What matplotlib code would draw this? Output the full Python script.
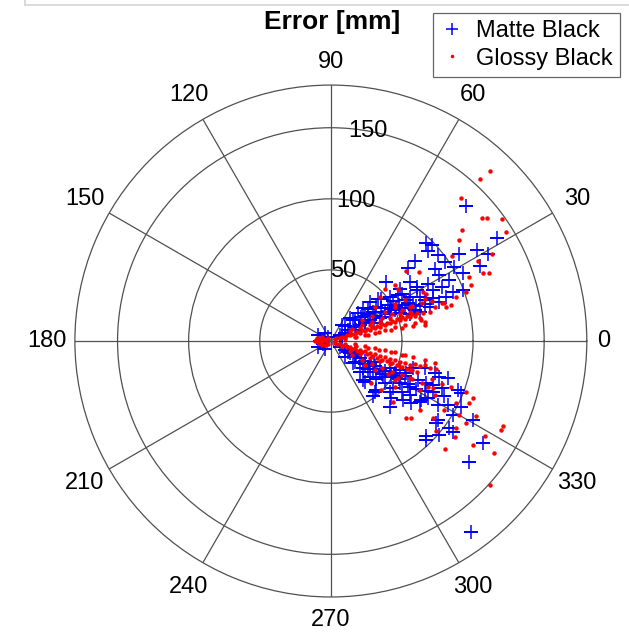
import numpy as np
import matplotlib
matplotlib.use("Agg")
import matplotlib.pyplot as plt
from matplotlib.lines import Line2D

plt.rcParams['font.family'] = ['Liberation Sans', 'DejaVu Sans']

# error components in mm (x, y)
matte_x = [95.2, 116.6, 66.6, 71.0, 68.0, 75.2, 90.4, 102.6, 110.8, 80.1, 104.7, 93.2, 72.9, 58.9, 54.2,
           39.0, 48.9, 55.4, 60.5, 27.3, 33.2, 41.4, 47.2, 13.3, 19.1, 22.6, 29.7, 35.5, 53.1, 62.4,
           7.5, 46.1, 57.7, 86.9, 83.4, 76.4, 71.7, 85.7, 92.7, 65.9, 76.4, 81.1, 69.4, 15.6, 21.5,
           60.5, 35.5,
           6.3, 9.8, 13.3, 16.8, 20.3, 23.8, 27.3, 30.9, 34.4, 37.9, 41.4, 44.9, 48.4, 51.9, 55.4,
           58.9, 62.4, 9.8, 16.8, 23.8, 40.0, 25.9,
           8, 12, 18, 24, 30, 36, 42, 48, 54, 60, 66, 72, 26, 32, 44, 50, 56, 68, 78,
           15.6, 22.6, 23.8, 32.0, 29.7, 41.4, 42.6, 50.7, 56.6, 62.4, 36.7, 46.1, 53.1, 48.4, 55.4,
           61.2, 67.1, 67.1, 29.7, 57.7, 65.9, 72.9, 76.4, 71.7, 82.3, 89.3, 91.6, 79.9, 63.6, 75.2,
           82.3, 91.6, 85.7, 99.8, 75.2, 83.4, 76.4, 67.1, 85.7, 106.8, 97.0, 98.7, 22.6, 30.9, 41.4,
           74.1,
           6.3, 9.8, 13.3, 16.8, 20.3, 23.8, 27.3, 30.9, 34.4, 37.9, 41.4, 44.9, 48.4, 51.9, 9.8,
           16.8, 20.3, 27.3, 37.9,
           8, 12, 18, 24, 30, 36, 42, 48, 54, 60, 66, 72, 26, 32, 44, 50, 56, 68, 78,
           -9.1, -9.1, -4.2, -4.2, -7.7, -2.0, -5.5]
matte_y = [94.9, 72.4, 69.2, 67.3, 63.1, 60.8, 61.5, 63.8, 61.2, 55.6, 52.6, 47.9, 51.0, 56.3, 51.7,
           41.6, 36.9, 41.6, 38.1, 27.6, 29.9, 31.1, 32.2, 15.9, 19.4, 22.9, 20.5, 22.9, 28.7, 31.1,
           11.2, 24.0, 25.2, 52.1, 42.8, 46.3, 35.8, 34.6, 35.8, 28.7, 27.6, 31.1, 24.0, 14.7, 17.0,
           35.8, 29.9,
           4.2, 5.6, 7.7, 9.8, 11.2, 13.3, 14.7, 17.5, 16.1, 20.3, 18.9, 21.7, 19.6, 23.1, 18.9,
           21.7, 20.3, 10.5, 14.7, 17.5, 25.2, 22.4,
           3.5, 7.5, 8.0, 12.5, 13.0, 17.0, 22.5, 25.0, 27.0, 24.5, 26.0, 30.0, 19.0, 24.0, 28.0, 33.0, 31.0, 40.0, 38.0,
           -15.6, -19.1, -28.5, -34.4, -39.0, -35.5, -40.2, -41.4, -43.7, -42.6, -25.0, -25.0, -22.6, -29.7, -32.0,
           -27.3, -29.7, -67.1, -21.5, -19.1, -19.1, -22.6, -25.0, -30.9, -26.2, -34.4, -36.7, -39.0, -41.4, -44.9,
           -44.9, -46.1, -51.9, -55.4, -55.4, -61.2, -65.9, -69.4, -64.3, -71.7, -85.0, -134.1, -27.3, -35.5, -46.1,
           -57.7,
           -4.2, -6.3, -8.4, -10.5, -11.9, -14.0, -16.1, -17.5, -19.6, -21.0, -18.9, -22.4, -20.3, -24.5, -11.2,
           -14.7, -21.7, -25.2, -29.5,
           -3.5, -8.0, -9.0, -16.0, -14.5, -23.0, -24.0, -27.0, -30.0, -34.0, -35.0, -36.0, -19.5, -27.0, -33.0,
           -36.0, -38.0, -40.0, -33.0,
           4.2, -4.2, 5.6, -5.6, 0.0, 3.0, -2.0]

glossy_x = [112.0, 105.2, 91.4, 106.3, 110.1, 120.6, 92.5, 123.4, 90.2, 85.3, 113.6, 103.5, 53.1, 61.9, 44.9,
            34.4, 64.7, 55.4, 49.6, 106.8, 111.0, 97.4, 98.6, 95.1, 84.6, 79.9, 67.1, 64.7, 63.6, 69.4,
            88.1, 81.1, 72.9, 55.4, 65.9, 47.2, 37.9, 30.9, 44.9,
            2.8, 6.3, 9.8, 13.3, 16.8, 20.3, 23.8, 27.3, 30.9, 34.4, 37.9, 41.4, 44.9, 48.4, 51.9,
            55.4, 58.9, 62.4, 65.9, 13.3, 20.3, 27.3, 34.4, 41.4, 48.4, 16.8, 23.8, 30.9, 37.9, 44.9,
            51.9, 58.9, 21.7, 28.7, 37.9, 44.9, 51.9,
            4.5, 8.0, 11.5, 15.0, 18.5, 22.0, 25.5, 29.0, 32.5, 36.0, 39.5, 43.0, 46.5, 50.0, 53.5, 57.0, 60.5,
            10, 18, 26, 34, 42, 50, 58, 66,
            15, 22, 29, 36, 43, 50, 57, 64, 71, 78,
            2.8, 6.3, 9.8, 13.3, 16.8, 20.3, 23.8, 27.3, 30.9, 34.4, 37.9, 41.4, 44.9, 48.4, 51.9,
            55.4, 58.9, 62.4, 65.9, 69.4, 13.3, 20.3, 27.3, 34.4, 41.4, 48.4, 55.4, 16.8, 23.8, 30.9,
            37.9, 44.9, 51.9, 23.8, 30.9, 40.0, 47.0, 55.4,
            4.5, 8.0, 11.5, 15.0, 18.5, 22.0, 25.5, 29.0, 32.5, 36.0, 39.5, 43.0, 46.5, 50.0, 53.5, 57.0, 60.5,
            10, 18, 26, 34, 42, 50, 58, 66, 74,
            15, 22, 29, 36, 43, 50, 57, 64, 71, 78,
            28.5, 35.5, 44.9, 44.9, 53.1, 56.6, 62.4, 43.7, 62.4, 68.2, 72.9, 84.6, 95.1, 97.4, 99.8,
            71.7, 90.4, 95.1, 102.1, 119.7, 120.8, 88.1, 74.1, 87.6, 80.6, 100.2, 108.4, 115.0, 112.0, 72.9,
            79.9, 71.7, 88.1,
            -7.7, -9.1, -6.3, -6.3, -3.5, -2.1, -2.1, -10.5, -5.0, -8.0, -11.0, -4.0, -6.0, -9.5]
glossy_y = [119.4, 113.8, 100.8, 86.7, 86.7, 85.8, 78.1, 76.9, 70.8, 59.8, 61.2, 56.3, 49.1, 48.2, 39.3,
            31.1, 34.6, 20.5, 17.0, 47.5, 47.5, 45.1, 39.3, 34.6, 25.2, 26.4, 33.4, 19.4, 14.7, 20.5,
            31.1, 24.0, 24.0, 24.0, 29.9, 36.9, 36.9, 24.0, 24.0,
            1.4, 2.1, 2.8, 4.2, 4.9, 5.6, 7.0, 7.7, 9.1, 9.8, 11.2, 12.6, 13.3, 14.7, 15.4,
            16.8, 17.5, 16.1, 13.3, 7.0, 9.1, 11.2, 13.3, 16.1, 18.9, 2.8, 4.2, 5.6, 7.7, 9.8,
            11.2, 12.6, 14.7, 17.5, 20.3, 25.9, 28.7,
            1.8, 2.9, 3.9, 5.2, 6.3, 7.5, 8.3, 9.6, 10.8, 11.9, 13.0, 14.4, 15.5, 16.6, 17.9, 19.0, 19.8,
            1.5, 2.9, 4.3, 6.0, 7.6, 9.0, 10.5, 11.5,
            8.5, 11.5, 13.5, 16.5, 19.0, 21.5, 24.5, 26.5, 28.0, 27.0,
            -1.4, -2.1, -2.8, -4.2, -4.9, -6.3, -7.0, -8.4, -9.1, -10.5, -11.2, -12.6, -13.3, -14.7, -15.4,
            -16.8, -16.1, -17.5, -16.8, -18.9, -7.0, -9.1, -11.9, -14.0, -16.1, -18.2, -20.3, -2.1, -3.5, -4.9,
            -6.3, -7.7, -9.8, -16.8, -20.3, -23.1, -25.9, -25.9,
            -1.8, -3.2, -4.4, -5.6, -6.9, -8.0, -9.4, -10.6, -11.8, -13.0, -14.2, -15.6, -16.9, -18.0, -19.4, -20.5, -21.6,
            -2.0, -3.3, -5.0, -6.5, -8.0, -10.0, -11.5, -13.0, -20.0,
            -10.0, -13.0, -16.5, -19.0, -22.0, -24.0, -27.0, -29.5, -27.0, -30.0,
            -29.7, -34.4, -27.3, -32.0, -54.2, -54.2, -48.4, -42.6, -34.4, -32.0, -15.6, -32.0, -35.5, -43.7, -40.2,
            -54.2, -51.9, -57.7, -52.6, -62.4, -59.6, -61.2, -63.6, -67.5, -75.7, -73.4, -66.6, -78.7, -101.4, -37.9,
            -48.4, -33.2, -43.7,
            0.7, -0.7, 2.8, -2.8, 0.0, 2.1, -2.1, 0.7, 1.5, -1.5, 0.0, -3.0, 0.0, 1.8]

theta_ticks = [0, 30, 60, 90, 120, 150, 180, 210, 240, 270, 300, 330]
r_ticks = [50, 100, 150]
r_max = 180

matte_th = np.arctan2(matte_y, matte_x)
matte_r = np.hypot(matte_x, matte_y)
glossy_th = np.arctan2(glossy_y, glossy_x)
glossy_r = np.hypot(glossy_x, glossy_y)

fig = plt.figure(figsize=(6.29, 6.32), dpi=100)
ax = fig.add_axes([0.119, 0.0554, 0.814, 0.810], projection='polar')

ax.plot(matte_th, matte_r, '+', color='blue', ms=10, mew=1.1, label='Matte Black')
ax.plot(glossy_th, glossy_r, 'o', color='red', ms=3.2, mew=0, label='Glossy Black')

ax.set_rlim(0, r_max)
ax.set_thetagrids(theta_ticks, labels=[''] * len(theta_ticks))
ax.set_rticks(r_ticks)
ax.set_yticklabels([])
ax.grid(True, color='#505050', lw=0.9)
ax.spines['polar'].set_color('#505050')
ax.spines['polar'].set_linewidth(0.9)

for t in theta_ticks:
    f = 1.11
    if t == 0:
        f = 1.065
    elif t in (90, 270):
        f = 1.09
    ax.text(np.deg2rad(t), r_max * f, str(t), ha='center', va='center', fontsize=17, clip_on=False)
for rt in r_ticks:
    ax.text(np.deg2rad(80), rt, str(rt), ha='center', va='center', fontsize=17)

fig.text(0.528, 0.965, 'Error [mm]', ha='center', va='center', fontsize=19, fontweight='bold')

leg = fig.legend(loc='upper right', bbox_to_anchor=(0.986, 0.979), borderaxespad=0, fontsize=17,
                 fancybox=False, edgecolor='#404040', handlelength=1.0, handletextpad=0.55,
                 borderpad=0.3, labelspacing=0.22, markerscale=0.8)
leg.get_frame().set_linewidth(0.9)

# faint frame edge at the very top of the screenshot
fig.add_artist(Line2D([0.04, 1.0], [0.992, 0.992], color='#d4d4d4', lw=1.2))
fig.add_artist(Line2D([0.04, 0.04], [0.992, 1.0], color='#d4d4d4', lw=1.2))

fig.savefig('out.png', dpi=100)
